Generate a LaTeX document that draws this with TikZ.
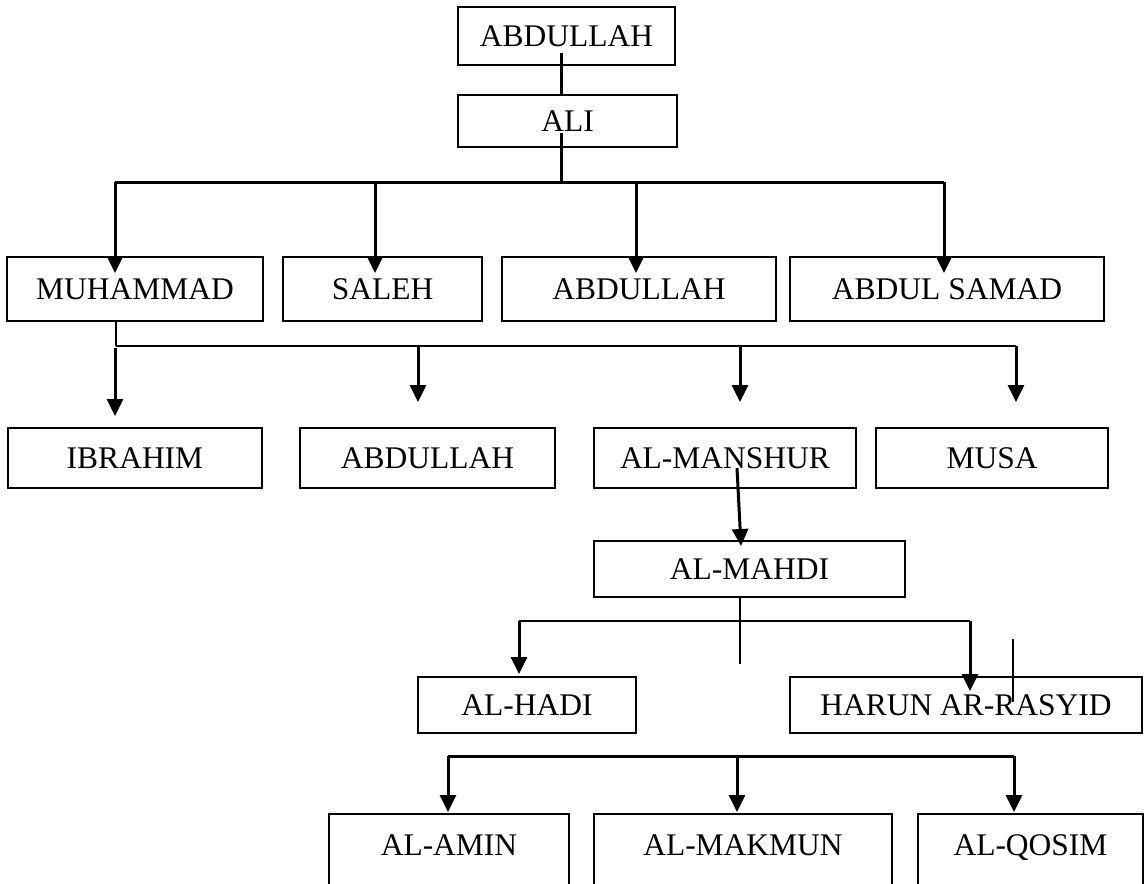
\documentclass[tikz,border=0pt]{standalone}
\usepackage{fontspec}
\setmainfont{Liberation Serif}
\usetikzlibrary{arrows.meta,calc}

\begin{document}
\begin{tikzpicture}[x=1pt,y=-1pt,
	box/.style={draw=BLACK, line width=2, fill=WHITE, inner sep=0pt,
		font=\fontsize{31.5}{38}\selectfont, text height=21pt, text depth=0pt},
	thin/.style={BLACK, line width=1.6},
	thick/.style={BLACK, line width=3},
	arr/.style={BLACK, line width=3, -{Triangle[length=17pt,width=16pt]}}]
	\definecolor{BLACK}{RGB}{0,0,0}
	\definecolor{WHITE}{RGB}{255,255,255}
	\useasboundingbox (0,0) rectangle (1147,883);

	% generation 1 and 2
	\node[box, minimum width=217pt, minimum height=58pt] (abdA) at (566.5,36) {ABDULLAH};
	\node[box, minimum width=219pt, minimum height=52pt] (ali) at (567.5,121) {ALI};

	% sons of Ali
	\node[box, minimum width=256pt, minimum height=64pt] (muhammad) at (135,289) {MUHAMMAD};
	\node[box, minimum width=199pt, minimum height=64pt] (saleh) at (382.5,289) {SALEH};
	\node[box, minimum width=274pt, minimum height=64pt] (abdB) at (639,289) {ABDULLAH};
	\node[box, minimum width=314pt, minimum height=64pt] (samad) at (947,289) {ABDUL SAMAD};

	% sons of Muhammad
	\node[box, minimum width=254pt, minimum height=60pt] (ibrahim) at (135,458) {IBRAHIM};
	\node[box, minimum width=255pt, minimum height=60pt] (abdC) at (427.5,458) {ABDULLAH};
	\node[box, minimum width=262pt, minimum height=60pt] (mansur) at (725,458) {AL-MANSHUR};
	\node[box, minimum width=232pt, minimum height=60pt] (musa) at (992,458) {MUSA};

	\node[box, minimum width=311pt, minimum height=56pt] (mahdi) at (749.5,569) {AL-MAHDI};
	\node[box, minimum width=218pt, minimum height=56pt] (hadi) at (527,705) {AL-HADI};
	\node[box, minimum width=352pt, minimum height=56pt] (harun) at (966,705) {HARUN AR-RASYID};

	% last row, cut at the page edge
	\node[box, minimum width=240pt, minimum height=86pt, text depth=24pt] (amin) at (449,857) {AL-AMIN};
	\node[box, minimum width=298pt, minimum height=86pt, text depth=24pt] (makmun) at (743,857) {AL-MAKMUN};
	\node[box, minimum width=225pt, minimum height=86pt, text depth=24pt] (qosim) at (1030.5,857) {AL-QOSIM};

	% Abdullah -> Ali -> sons
	\draw[thick] ($(abdA.center)+(-5.5,17)$) -- ($(ali.north)+(-6.5,0)$);
	\coordinate (b1) at (115,182);
	\coordinate (b2) at (375,182);
	\coordinate (b3) at (636,182);
	\coordinate (b4) at (944,182);
	\coordinate (b0) at ($(ali.south)+(-6.5,35)$);
	\draw[thick] ($(ali.center)+(-6.5,12)$) -- (b0);
	\draw[thick] (b1) -- (b4);
	\foreach \s/\t in {b1/muhammad, b2/saleh, b3/abdB, b4/samad}
		\draw[arr] (\s) -- ($(\s |- \t.north)+(0,17)$);

	% Muhammad -> sons
	\coordinate (c1) at (115,346);
	\coordinate (c2) at (418,346);
	\coordinate (c3) at (740,346);
	\coordinate (c4) at (1016,346);
	\draw[thin] ($(muhammad.south)+(-19,0)$) -- ($(c1)+(1,0)$);
	\draw[thin] ($(c1)+(1,0)$) -- (c4);
	\draw[arr] ($(c1)+(0,2)$) -- ($(c1 |- ibrahim.north)+(0,-11)$);
	\foreach \s/\t in {c2/abdC, c3/mansur, c4/musa}
		\draw[arr] (\s) -- ($(\s |- \t.north)+(0,-25)$);

	% Al-Manshur -> Al-Mahdi
	\draw[arr] ($(mansur.center)+(12,10)$) -- ($(mahdi.north)+(-8.5,6)$);

	% Al-Mahdi -> sons
	\coordinate (d1) at (519,621);
	\coordinate (d2) at (970,621);
	\draw[thin] ($(mahdi.south)+(-9.5,0)$) -- ($(mahdi.south)+(-9.5,66)$);
	\draw[thin] (d1) -- (d2);
	\draw[arr] (d1) -- ($(d1 |- hadi.north)+(0,-2)$);
	\draw[arr] (d2) -- ($(d2 |- harun.north)+(0,15)$);
	\draw[thin] ($(harun.north)+(47,-37)$) -- ($(harun.north)+(47,26)$);

	% Harun -> sons
	\coordinate (e1) at (448,756);
	\coordinate (e2) at (737,756);
	\coordinate (e3) at (1014,756);
	\draw[thick] (e1) -- (e3);
	\foreach \s/\t in {e1/amin, e2/makmun, e3/qosim}
		\draw[arr] (\s) -- ($(\s |- \t.north)+(0,-1)$);
\end{tikzpicture}
\end{document}
